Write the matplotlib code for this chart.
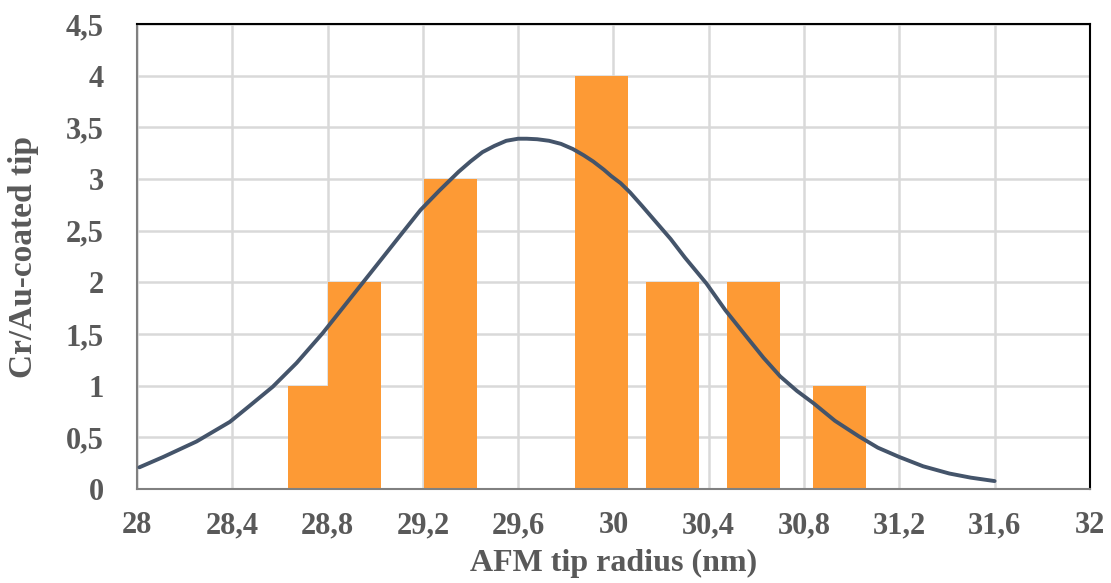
import numpy as np
import matplotlib
matplotlib.use("Agg")
import matplotlib.pyplot as plt

# histogram bars (bin centre, count)
bar_x = [28.745, 28.915, 29.316, 29.948, 30.248, 30.588, 30.951]
bar_h = [1, 2, 3, 4, 2, 2, 1]
bar_w = 0.2225

# fitted curve
curve_x = [28.01, 28.11, 28.25, 28.39, 28.47, 28.57, 28.67, 28.78, 28.88, 28.98,
           29.09, 29.19, 29.27, 29.35, 29.40, 29.45, 29.50, 29.55, 29.60, 29.636,
           29.68, 29.73, 29.78, 29.83, 29.875, 29.915, 29.96, 29.99, 30.03, 30.07,
           30.12, 30.18, 30.24, 30.30, 30.39, 30.47, 30.56, 30.63, 30.70, 30.77,
           30.84, 30.93, 31.03, 31.11, 31.20, 31.30, 31.41, 31.50, 31.60]
curve_y = [0.21, 0.31, 0.46, 0.65, 0.80, 0.99, 1.22, 1.51, 1.80, 2.09,
           2.41, 2.70, 2.89, 3.07, 3.17, 3.26, 3.32, 3.37, 3.39, 3.39,
           3.385, 3.37, 3.34, 3.29, 3.23, 3.17, 3.09, 3.03, 2.96, 2.87,
           2.74, 2.58, 2.42, 2.24, 1.99, 1.73, 1.47, 1.27, 1.09, 0.95,
           0.83, 0.66, 0.51, 0.40, 0.31, 0.22, 0.15, 0.11, 0.077]

xticks = [28, 28.4, 28.8, 29.2, 29.6, 30, 30.4, 30.8, 31.2, 31.6, 32]
xtick_labels = ["28", "28,4", "28,8", "29,2", "29,6", "30", "30,4", "30,8", "31,2", "31,6", "32"]
yticks = [0, 0.5, 1, 1.5, 2, 2.5, 3, 3.5, 4, 4.5]
ytick_labels = ["0", "0,5", "1", "1,5", "2", "2,5", "3", "3,5", "4", "4,5"]

plt.rcParams['font.family'] = ['Liberation Serif', 'DejaVu Serif']
txt = '#595959'

fig = plt.figure(figsize=(11.11, 5.83), dpi=100)
ax = fig.add_axes([0.1233, 0.1612, 0.8577, 0.7976])

for x, h in zip(bar_x, bar_h):
    ax.bar(x, h, width=bar_w, color='#FD9A35', edgecolor='none', zorder=2)

ax.plot(curve_x, curve_y, color='#44546A', lw=2.8, zorder=3,
        solid_capstyle='round', solid_joinstyle='round')

ax.set_xlim(28, 32)
ax.set_ylim(0, 4.5)
ax.set_xticks(xticks)
ax.set_xticklabels(xtick_labels)
ax.set_yticks(yticks)
ax.set_yticklabels(ytick_labels)
ax.grid(True, color='#D9D9D9', lw=1.8, zorder=0)
ax.set_axisbelow(True)

ax.tick_params(length=0, labelsize=22, labelcolor=txt)
ax.tick_params(axis='x', pad=16)
ax.tick_params(axis='y', pad=24)
for lab in ax.get_xticklabels() + ax.get_yticklabels():
    lab.set_fontweight('bold')

for s in ['left', 'bottom']:
    ax.spines[s].set_color('#808080')
    ax.spines[s].set_linewidth(1.5)
for s in ['top', 'right']:
    ax.spines[s].set_color('black')
    ax.spines[s].set_linewidth(1.5)

ax.set_xlabel('AFM tip radius (nm)', fontsize=23, fontweight='bold', color=txt)
ax.set_ylabel('Cr/Au-coated tip', fontsize=24, fontweight='bold', color=txt)
ax.xaxis.set_label_coords(0.5, -0.128)
ax.yaxis.set_label_coords(-0.103, 0.5)

fig.savefig('out.png', dpi=100)
